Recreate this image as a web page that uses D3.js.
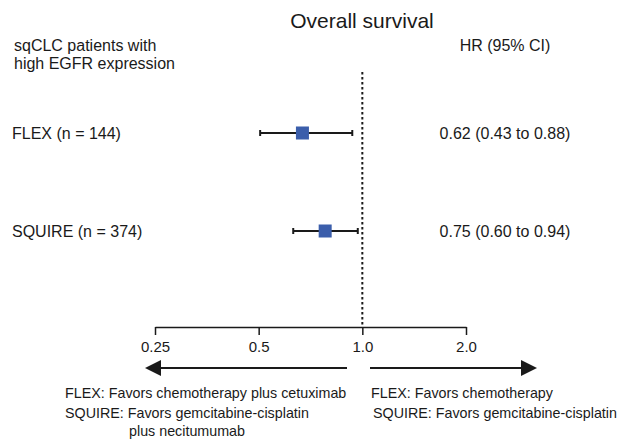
<!doctype html>
<html>
<head>
<meta charset="utf-8">
<title>Overall survival forest plot</title>
<script src="https://cdn.jsdelivr.net/npm/d3@7"></script>
<style>
  body { margin: 0; background: white; }
  svg { display: block; font-family: "Liberation Sans", Arial, sans-serif; }
</style>
</head>
<body>
<svg id="chart" width="621" height="439"></svg>
<script>
// trials and values
var studies = ['FLEX (n = 144)', 'SQUIRE (n = 374)'];
var hr = [0.67, 0.78];
var ciLow = [0.505, 0.63];
var ciHigh = [0.935, 0.97];
var hrLabels = ['0.62 (0.43 to 0.88)', '0.75 (0.60 to 0.94)'];
var tickValues = [0.25, 0.5, 1, 2];
var tickLabels = ['0.25', '0.5', '1.0', '2.0'];
var leftNotes = ['FLEX: Favors chemotherapy plus cetuximab', 'SQUIRE: Favors gemcitabine-cisplatin', 'plus necitumumab'];
var rightNotes = ['FLEX: Favors chemotherapy', 'SQUIRE: Favors gemcitabine-cisplatin'];

var svg = d3.select('#chart');
var ink = '#1a1a1a';

var x = d3.scaleLog().base(2).domain([0.25, 2]).range([155, 466]);
var y = d3.scalePoint().domain(studies).range([133, 231]);
var axisY = 327;
var hrX = 505;

// title and headers
svg.append('text')
    .attr('x', 362).attr('y', 28)
    .attr('text-anchor', 'middle')
    .attr('font-size', 21)
    .attr('fill', ink)
    .text('Overall survival');

svg.append('text')
    .attr('y', 51)
    .attr('font-size', 16)
    .attr('fill', ink)
    .selectAll('tspan')
    .data(['sqCLC patients with', 'high EGFR expression'])
    .enter().append('tspan')
    .attr('x', 14)
    .attr('dy', function (d, i) { return i ? 18 : 0; })
    .text(function (d) { return d; });

svg.append('text')
    .attr('x', hrX).attr('y', 51)
    .attr('text-anchor', 'middle')
    .attr('font-size', 16)
    .attr('fill', ink)
    .text('HR (95% CI)');

// reference line at HR = 1
svg.append('line')
    .attr('x1', x(1)).attr('x2', x(1))
    .attr('y1', 72).attr('y2', axisY)
    .attr('stroke', ink)
    .attr('stroke-width', 2)
    .attr('stroke-dasharray', '2.5,2.5');

// rows
var rows = svg.selectAll('.row')
    .data(studies)
    .enter().append('g')
    .attr('class', 'row')
    .attr('transform', function (d) { return 'translate(0,' + y(d) + ')'; });

rows.append('text')
    .attr('x', 12).attr('dy', '0.35em')
    .attr('font-size', 16)
    .attr('fill', ink)
    .text(function (d) { return d; });

rows.append('text')
    .attr('x', hrX).attr('dy', '0.35em')
    .attr('text-anchor', 'middle')
    .attr('font-size', 16)
    .attr('fill', ink)
    .text(function (d, i) { return hrLabels[i]; });

rows.append('line')
    .attr('x1', function (d, i) { return x(ciLow[i]); })
    .attr('x2', function (d, i) { return x(ciHigh[i]); })
    .attr('stroke', ink).attr('stroke-width', 2);

[ciLow, ciHigh].forEach(function (arr) {
  rows.append('line')
      .attr('x1', function (d, i) { return x(arr[i]); })
      .attr('x2', function (d, i) { return x(arr[i]); })
      .attr('y1', -3).attr('y2', 3)
      .attr('stroke', ink).attr('stroke-width', 2);
});

rows.append('rect')
    .attr('x', function (d, i) { return x(hr[i]) - 6.5; })
    .attr('y', -6.5)
    .attr('width', 13).attr('height', 13)
    .attr('fill', '#3b5eab');

// axis
var axis = d3.axisBottom(x)
    .tickValues(tickValues)
    .tickSize(8)
    .tickSizeOuter(0)
    .tickFormat(function (d, i) { return tickLabels[i]; });

var gAxis = svg.append('g')
    .attr('transform', 'translate(0,' + axisY + ')')
    .call(axis);
gAxis.select('.domain').attr('stroke', ink).attr('stroke-width', 1.5);
gAxis.selectAll('.tick line').attr('stroke', ink).attr('stroke-width', 1.5);
gAxis.selectAll('.tick text')
    .attr('y', 25)
    .attr('dy', 0)
    .attr('font-size', 15)
    .attr('font-family', '"Liberation Sans", Arial, sans-serif')
    .attr('fill', ink);

// direction arrows
var arrowY = 368;
svg.append('line')
    .attr('x1', 347).attr('x2', 158)
    .attr('y1', arrowY).attr('y2', arrowY)
    .attr('stroke', ink).attr('stroke-width', 2);
svg.append('path')
    .attr('d', 'M145,' + arrowY + 'L161,' + (arrowY - 8) + 'L161,' + (arrowY + 8) + 'Z')
    .attr('fill', ink);
svg.append('line')
    .attr('x1', 370).attr('x2', 524)
    .attr('y1', arrowY).attr('y2', arrowY)
    .attr('stroke', ink).attr('stroke-width', 2);
svg.append('path')
    .attr('d', 'M537,' + arrowY + 'L521,' + (arrowY - 8) + 'L521,' + (arrowY + 8) + 'Z')
    .attr('fill', ink);

// favour notes
var leftX = [65, 65, 129];
var noteY = [398, 418, 436];
svg.selectAll('.lnote')
    .data(leftNotes)
    .enter().append('text')
    .attr('class', 'lnote')
    .attr('x', function (d, i) { return leftX[i]; })
    .attr('y', function (d, i) { return noteY[i]; })
    .attr('font-size', 14.3)
    .attr('fill', ink)
    .text(function (d) { return d; });

svg.selectAll('.rnote')
    .data(rightNotes)
    .enter().append('text')
    .attr('class', 'rnote')
    .attr('x', function (d, i) { return i ? 373 : 371; })
    .attr('y', function (d, i) { return noteY[i]; })
    .attr('font-size', 14.3)
    .attr('fill', ink)
    .text(function (d) { return d; });
</script>
</body>
</html>
